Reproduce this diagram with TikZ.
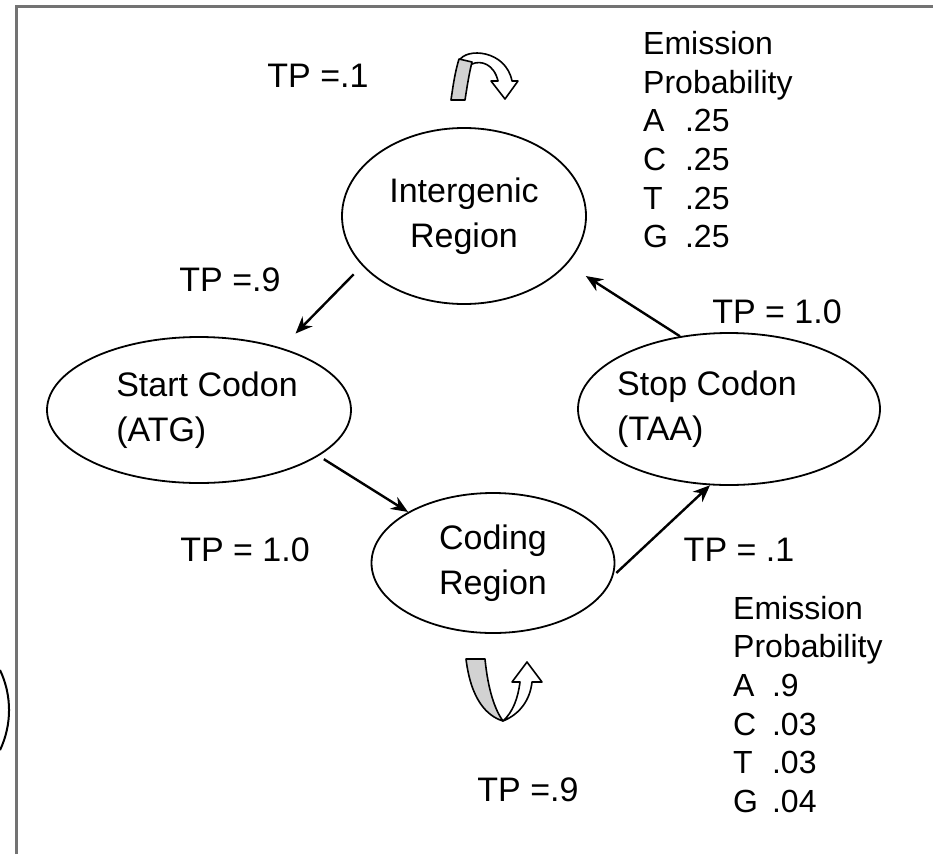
\documentclass[tikz,border=0pt]{standalone}
\usepackage{fontspec}
\setmainfont{Liberation Sans}
\usetikzlibrary{shapes.geometric,arrows.meta}
\tikzset{>={Stealth[length=17pt,width=14pt]}}

\begin{document}
\begin{tikzpicture}[x=1pt,y=-1pt,
    state/.style={ellipse, draw, line width=1.8pt, inner sep=0pt,
      font=\fontsize{34}{45}\selectfont},
    trans/.style={->, line width=2.4pt},
    lbl/.style={inner sep=0pt, font=\fontsize{34}{38.6}\selectfont},
    emit/.style={inner sep=0pt, font=\fontsize{32}{38.6}\selectfont},
    ribbon/.style={draw, line width=1.6pt, line join=round}]
    \useasboundingbox (0,0) rectangle (933,854);
    \draw[black!55, line width=3pt] (16,854) -- (16,6) -- (933,6);
    \draw[line width=2pt] (0,670) arc[start angle=-25.4, end angle=25.4, radius=93.4];

    % states
    \node[state, minimum width=244pt, minimum height=176pt, align=center] (inter) at (464,216) {Intergenic\\Region};
    \node[state, minimum width=304pt, minimum height=146pt, align=left] (start) at (199,410) {\hspace*{16pt}Start Codon\\\hspace*{16pt}(ATG)};
    \node[state, minimum width=302pt, minimum height=152pt, inner xsep=-14pt, align=left] (stop) at (729,409) {Stop Codon\hspace*{44pt}\\(TAA)};
    \node[state, minimum width=243pt, minimum height=140pt, align=center] (coding) at (493,563) {Coding\\Region};

    % transitions
    \draw[trans, shorten <=12pt, shorten >=20pt] (inter.206) -- (start.37);
    \draw[trans, shorten <=6pt] (start.-21) -- (coding.149);
    \draw[trans, shorten <=4pt] (coding.-6) -- (stop.256);
    \draw[trans, shorten >=22pt] (stop.124) -- (inter.-25);

    % self loops
    \draw[ribbon, fill=white] (459,61) .. controls (466,47) and (506,50) .. (512,81)
      -- (518,81) -- (505,99) -- (491,81) -- (498,81)
      .. controls (494,64) and (481,60) .. (472,64) -- cycle;
    \draw[ribbon, fill=gray!35] (451,100) .. controls (453,86) and (455,72) .. (459,59)
      -- (472,62) .. controls (469,74) and (467,87) .. (465,100) -- cycle;
    \draw[ribbon, fill=gray!35] (466,659) -- (485,659) .. controls (488,690) and (495,710) .. (503,721)
      .. controls (487,716) and (471,700) .. (466,659) -- cycle;
    \draw[ribbon, fill=white] (503,721) .. controls (513,712) and (518,698) .. (520,682)
      -- (512,682) -- (527,662) -- (542,682) -- (532,682)
      .. controls (530,700) and (520,714) .. (503,721) -- cycle;

    % transition probabilities
    \node[lbl] (tpInter) at (318,76) {TP =.1};
    \node[lbl] (tpInterStart) at (230,280) {TP =.9};
    \node[lbl] (tpStopInter) at (777,312) {TP = 1.0};
    \node[lbl] (tpStartCoding) at (245,550) {TP = 1.0};
    \node[lbl] (tpCodingStop) at (739,550) {TP = .1};
    \node[lbl] (tpCoding) at (528,790) {TP =.9};

    % emission probabilities
    \node[emit, anchor=north west] (emitInter) at (643,27.5) {%
      \begin{tabular}{@{}l@{\hspace{17pt}}l@{}}
        \multicolumn{2}{@{}l@{}}{Emission}\\
        \multicolumn{2}{@{}l@{}}{Probability}\\
        A & .25\\ C & .25\\ T & .25\\ G & .25
      \end{tabular}};
    \node[emit, anchor=north west] (emitCoding) at (733,592) {%
      \begin{tabular}{@{}l@{\hspace{14pt}}l@{}}
        \multicolumn{2}{@{}l@{}}{Emission}\\
        \multicolumn{2}{@{}l@{}}{Probability}\\
        A & .9\\ C & .03\\ T & .03\\ G & .04
      \end{tabular}};
\end{tikzpicture}
\end{document}
